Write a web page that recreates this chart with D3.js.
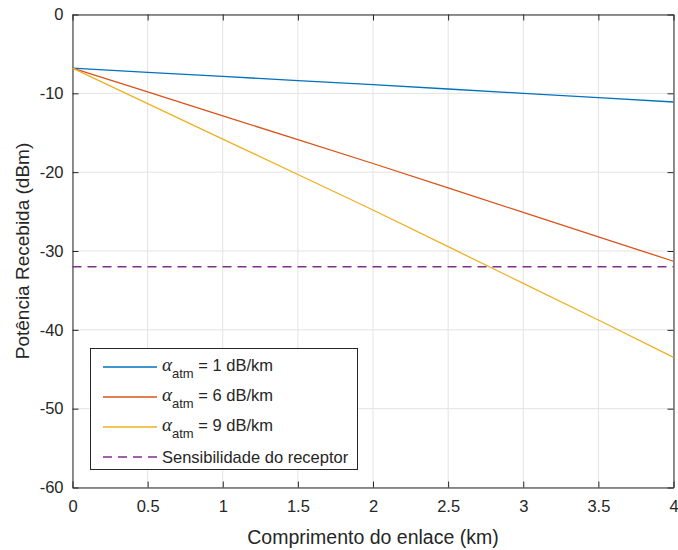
<!DOCTYPE html>
<html>
<head>
<meta charset="utf-8">
<script src="https://cdn.jsdelivr.net/npm/d3@7"></script>
<style>
  body { margin: 0; background: #fff; }
  text { font-family: "Liberation Sans", Arial, sans-serif; fill: #262626; }
</style>
</head>
<body>
<script>
//Width and height
var w = 678;
var h = 550;
var margin = {top: 14.5, right: 4.5, bottom: 62.5, left: 72.5};

//Data
var distance = [0, 0.5, 1, 1.5, 2, 2.5, 3, 3.5, 4];
var power1 = [-6.8, -7.33, -7.85, -8.38, -8.9, -9.45, -10.0, -10.55, -11.1];
var power6 = [-6.8, -9.83, -12.85, -15.88, -18.9, -22.0, -25.1, -28.2, -31.3];
var power9 = [-6.8, -11.3, -15.8, -20.3, -24.8, -29.45, -34.1, -38.75, -43.5];
var sensitivity = -32;
var xTicks = [0, 0.5, 1, 1.5, 2, 2.5, 3, 3.5, 4];
var yTicks = [0, -10, -20, -30, -40, -50, -60];
var seriesLabels = ["1 dB/km", "6 dB/km", "9 dB/km"];
var colors = ["#0072BD", "#D95319", "#EDB120", "#7E2F8E"];

var x = d3.scaleLinear().domain([0, 4]).range([margin.left, w - margin.right]);
var y = d3.scaleLinear().domain([-60, 0]).range([h - margin.bottom, margin.top]);

var svg = d3.select("body")
            .append("svg")
            .attr("width", w)
            .attr("height", h);

//Grid
svg.append("g").selectAll("line")
   .data(xTicks).enter().append("line")
   .attr("x1", function(d) { return x(d); })
   .attr("x2", function(d) { return x(d); })
   .attr("y1", y(-60)).attr("y2", y(0))
   .attr("stroke", "#e3e3e3").attr("stroke-width", 1);
svg.append("g").selectAll("line")
   .data(yTicks).enter().append("line")
   .attr("y1", function(d) { return y(d); })
   .attr("y2", function(d) { return y(d); })
   .attr("x1", x(0)).attr("x2", x(4))
   .attr("stroke", "#e3e3e3").attr("stroke-width", 1);

//Axes (ticks pointing inwards, on all four sides)
var tickLen = 6;
var fmt = function(d) { return String(d); };
svg.append("g").attr("transform", "translate(0," + y(-60) + ")")
   .call(d3.axisBottom(x).tickValues(xTicks).tickFormat(fmt).tickSizeInner(-tickLen).tickSizeOuter(0).tickPadding(13));
svg.append("g").attr("transform", "translate(0," + y(0) + ")")
   .call(d3.axisTop(x).tickValues(xTicks).tickFormat("").tickSizeInner(-tickLen).tickSizeOuter(0));
svg.append("g").attr("transform", "translate(" + x(0) + ",0)")
   .call(d3.axisLeft(y).tickValues(yTicks).tickFormat(fmt).tickSizeInner(-tickLen).tickSizeOuter(0).tickPadding(9));
svg.append("g").attr("transform", "translate(" + x(4) + ",0)")
   .call(d3.axisRight(y).tickValues(yTicks).tickFormat("").tickSizeInner(-tickLen).tickSizeOuter(0));

svg.selectAll(".domain").attr("stroke", "#262626");
svg.selectAll(".tick line").attr("stroke", "#262626");
svg.selectAll(".tick text").style("font-size", "16.5px").attr("fill", "#262626")
   .style("font-family", "'Liberation Sans', Arial, sans-serif");

//Lines
var line = d3.line()
             .x(function(d, i) { return x(distance[i]); })
             .y(function(d) { return y(d); });

[power1, power6, power9].forEach(function(s, i) {
    svg.append("path")
       .attr("d", line(s))
       .attr("fill", "none")
       .attr("stroke", colors[i])
       .attr("stroke-width", 1.3);
});

svg.append("line")
   .attr("x1", x(0)).attr("x2", x(4))
   .attr("y1", y(sensitivity)).attr("y2", y(sensitivity))
   .attr("stroke", colors[3])
   .attr("stroke-width", 1.3)
   .attr("stroke-dasharray", "9,6");

//Axis labels
svg.append("text")
   .attr("x", (x(0) + x(4)) / 2).attr("y", 544)
   .attr("text-anchor", "middle")
   .style("font-size", "19.5px")
   .text("Comprimento do enlace (km)");

svg.append("text")
   .attr("transform", "translate(29," + (y(-30)) + ") rotate(-90)")
   .attr("text-anchor", "middle")
   .style("font-size", "19px")
   .text("Potência Recebida (dBm)");

//Legend
var legend = svg.append("g");
legend.append("rect")
      .attr("x", 90.5).attr("y", 348.5)
      .attr("width", 267).attr("height", 121)
      .attr("fill", "#fff").attr("stroke", "#262626").attr("stroke-width", 1);

var rows = [367, 397, 427, 457];
seriesLabels.forEach(function(lab, i) {
    legend.append("line")
          .attr("x1", 103).attr("x2", 157)
          .attr("y1", rows[i]).attr("y2", rows[i])
          .attr("stroke", colors[i]).attr("stroke-width", 1.3);
    var t = legend.append("text")
          .attr("x", 162).attr("y", rows[i] + 4)
          .style("font-size", "16.5px");
    t.append("tspan")
     .style("font-family", "'Liberation Serif', 'Times New Roman', serif")
     .style("font-style", "italic")
     .style("font-size", "19px")
     .text("α");
    t.append("tspan")
     .attr("dy", 7)
     .style("font-size", "13px")
     .text("atm");
    t.append("tspan")
     .attr("dy", -7)
     .text(" = " + lab);
});

legend.append("line")
      .attr("x1", 103).attr("x2", 157)
      .attr("y1", rows[3]).attr("y2", rows[3])
      .attr("stroke", colors[3]).attr("stroke-width", 1.3)
      .attr("stroke-dasharray", "9,6");
legend.append("text")
      .attr("x", 162).attr("y", rows[3] + 6)
      .style("font-size", "16.5px")
      .text("Sensibilidade do receptor");
</script>
</body>
</html>
